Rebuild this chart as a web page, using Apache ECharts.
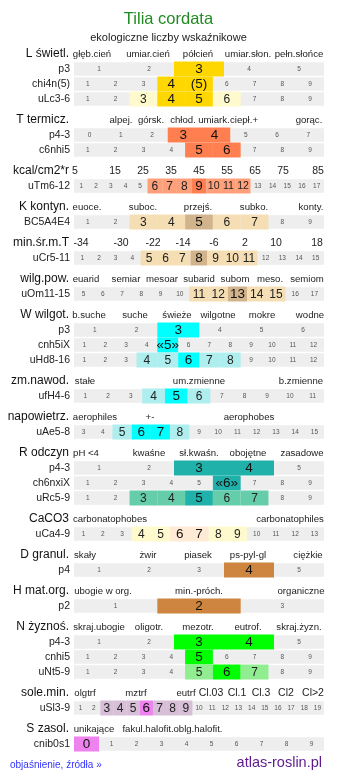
<!DOCTYPE html>
<html><head><meta charset="utf-8">
<script src="https://cdn.jsdelivr.net/npm/echarts@6/dist/echarts.min.js"></script>
<style>html,body{margin:0;padding:0;background:#fff}#c{width:337px;height:781px}</style>
</head><body><div id="c"></div>
<script>
// ---------- DATA ----------
const sectionNames = ['L świetl.','T termicz.','kcal/cm2*r','K kontyn.','min.śr.m.T','wilg.pow.','W wilgot.','zm.nawod.','napowietrz.','R odczyn','CaCO3','D granul.','H mat.org.','N żyznoś.','sole.min.','S zasol.'];
const sectionTicks = [
 ['głęb.cień','umiar.cień','półcień','umiar.słon.','pełn.słońce'],
 ['alpej.','górsk.','chłod.','umiark.','ciepł.+','gorąc.'],
 ['5','15','25','35','45','55','65','75','85'],
 ['euoce.','suboc.','przejś.','subko.','konty.'],
 ['-34','-30','-22','-14','-6','2','10','18'],
 ['euarid','semiar','mesoar','subarid','subom','meso.','semiom'],
 ['b.suche','suche','świeże','wilgotne','mokre','wodne'],
 ['stałe','um.zmienne','b.zmienne'],
 ['aerophiles','+-','aerophobes'],
 ['pH <4','kwaśne','sł.kwaśn.','obojętne','zasadowe'],
 ['carbonatophobes','carbonatophiles'],
 ['skały','żwir','piasek','ps-pyl-gl','ciężkie'],
 ['ubogie w org.','min.-próch.','organiczne'],
 ['skraj.ubogie','oligotr.','mezotr.','eutrof.','skraj.żyzn.'],
 ['olgtrf','mztrf','eutrf','Cl.03','Cl.1','Cl.3','Cl2','Cl>2'],
 ['unikające','fakul.halofit.','oblg.halofit.']
];
const rowNames = ['p3','chi4n(5)','uLc3-6','p4-3','c6nhi5','uTm6-12','BC5A4E4','uCr5-11','uOm11-15','p3','cnh5iX','uHd8-16','ufH4-6','uAe5-8','p4-3','ch6nxiX','uRc5-9','uCa4-9','p4','p2','p4-3','cnhi5','uNt5-9','uSl3-9','cnib0s1'];
const rowSection = [0,0,0,1,1,2,3,4,5,6,6,6,7,8,9,9,9,10,11,12,13,13,13,14,15];
const rowFirstValue = [1,1,1,0,1,1,1,1,5,1,1,1,1,3,1,1,1,1,1,1,1,1,1,1,0];
const rowLastValue  = [5,9,9,7,9,17,9,15,17,6,12,12,11,15,5,9,9,13,5,3,5,9,9,19,9];
const rowStrong = [[3],[4,5],[4,5],[3,4],[5,6],[9],[5],[8],[13],[3],[5],[6],[5],[6,7],[3,4],[6],[5],[6,7],[4],[2],[3,4],[5],[6],[6],[0]];
const rowLight  = [[],[],[3,6],[],[],[6,7,8,10,11,12],[3,4,6,7],[5,6,7,9,10,11],[11,12,14,15],[],[],[4,5,7,8],[4,6],[5,8],[],[],[3,4,6,7],[4,5,8,9],[],[],[],[],[5,7],[3,4,5,7,8,9],[]];
const cellLabelOverrides = [[1,5,'(5)'],[10,5,'«5»'],[15,6,'«6»']];

// ---------- LAYOUT / STYLE ----------
const tickCenters = [
 [92,148,198,248,299],
 [121,151,183,214,244,309],
 [75,115,143,171,199,227,255,283,318],
 [87,143,198,254,311],
 [81,121,153,183,214,245,276,317],
 [86,126,162,199,235,270,307],
 [89,135,177,218,262,310],
 [85,199,301],
 [95,150,249],
 [86,149,199,248,302],
 [110,290],
 [85,148,198,248,308],
 [103,199,301],
 [99,149,198,248,299],
 [85,136,186,211,237,261,286,313],
 [94,148,198]
];
const numericTickSections = [2,4];
const bigTickLabels = ['Cl.03','Cl.1','Cl.3','Cl2','Cl>2'];
const secColors = [
 ['#FFD700','#FFFACD'],['#FF7F50','#FFA07A'],['#FF7F50','#FFA07A'],
 ['#D2B48C','#F5DEB3'],['#D2B48C','#F5DEB3'],['#D2B48C','#F5DEB3'],
 ['#00FFFF','#AFEEEE'],['#00FFFF','#AFEEEE'],['#00FFFF','#AFEEEE'],
 ['#20B2AA','#66CDAA'],['#FFEBD5','#FFFACD'],['#CD853F','#CD853F'],['#CD853F','#CD853F'],
 ['#00FF00','#90EE90'],['#EE82EE','#D8BFD8'],['#EE82EE','#EE82EE']
];
const X0 = 74, X1 = 324, PITCH = 15, SEC_GAP = 21, FIRST_Y = 54;
const FONT = '"Liberation Sans", Arial, sans-serif';

// compute vertical layout
const secY = [], rowY = [];
let y = FIRST_Y;
sectionNames.forEach((s, si) => {
  if (si > 0) y += SEC_GAP;
  secY.push(y);
  rowNames.forEach((r, ri) => { if (rowSection[ri] === si) { y += PITCH; rowY[ri] = y; } });
});

// build element list
const els = [];
rowNames.forEach((name, ri) => {
  const yy = rowY[ri];
  els.push({k:'rect', x0:X0, x1:X1, y0:yy-6.8, y1:yy+6.8, fill:'#EEEEEE'});
});
rowNames.forEach((name, ri) => {
  const yy = rowY[ri], si = rowSection[ri];
  const n = rowLastValue[ri] - rowFirstValue[ri] + 1;
  const w = (X1 - X0) / n;
  for (let v = rowFirstValue[ri]; v <= rowLastValue[ri]; v++) {
    const i = v - rowFirstValue[ri];
    const strong = rowStrong[ri].includes(v), light = rowLight[ri].includes(v);
    if (strong || light) {
      els.push({k:'rect', x0:X0+i*w, x1:X0+(i+1)*w, y0:yy-7.5, y1:yy+7.5, fill: strong ? secColors[si][0] : secColors[si][1]});
    }
  }
});
rowNames.forEach((name, ri) => {
  const yy = rowY[ri];
  const n = rowLastValue[ri] - rowFirstValue[ri] + 1;
  const w = (X1 - X0) / n;
  for (let v = rowFirstValue[ri]; v <= rowLastValue[ri]; v++) {
    const i = v - rowFirstValue[ri];
    const strong = rowStrong[ri].includes(v), light = rowLight[ri].includes(v);
    let txt = String(v);
    cellLabelOverrides.forEach(o => { if (o[0] === ri && o[1] === v) txt = o[2]; });
    let size = strong ? 13.5 : (light ? 12 : 6.5);
    if ((strong || light) && txt.length >= 2 && !/[«(]/.test(txt)) size = Math.min(size, w * 0.72);
    els.push({k:'text', x:X0+(i+0.5)*w, y:yy+0.5, text:txt, align:'center',
      size: size, color: strong ? '#111' : (light ? '#222' : '#555')});
  }
  els.push({k:'text', x:70, y:yy, text:name, align:'right', size:10.5, color:'#222'});
});
sectionNames.forEach((s, si) => {
  els.push({k:'text', x:69, y:secY[si], text:s, align:'right', size:12, color:'#111'});
  sectionTicks[si].forEach((t, ti) => {
    const big = numericTickSections.includes(si) || bigTickLabels.includes(t);
    els.push({k:'text', x:tickCenters[si][ti], y:secY[si], text:t, align:'center', size: big ? 10.5 : 9.6, color:'#222'});
  });
});

const chart = echarts.init(document.getElementById('c'), null, {renderer:'canvas'});
chart.setOption({
  animation:false,
  backgroundColor:'#fff',
  title:[
    {text:'Tilia cordata', left:'center', top:11, padding:0, textStyle:{fontFamily:FONT, fontSize:16.5, fontWeight:'normal', color:'#228B22'}},
    {text:'ekologiczne liczby wskaźnikowe', left:'center', top:32, padding:0, textStyle:{fontFamily:FONT, fontSize:11, fontWeight:'normal', color:'#222'}},
    {text:'objaśnienie, źródła »', left:10, top:760, padding:0, textStyle:{fontFamily:FONT, fontSize:10, fontWeight:'normal', color:'#3333FF'}},
    {text:'atlas-roslin.pl', right:15, top:755, padding:0, textStyle:{fontFamily:FONT, fontSize:14.5, fontWeight:'normal', color:'#5E1A8C'}}
  ],
  grid:{left:0, right:0, top:0, bottom:0},
  xAxis:{type:'value', min:0, max:337, show:false},
  yAxis:{type:'value', min:0, max:781, inverse:true, show:false},
  series:[{
    type:'custom', coordinateSystem:'cartesian2d', silent:true, clip:false,
    data: els.map((e, i) => [e.k === 'rect' ? e.x0 : e.x, e.k === 'rect' ? e.y0 : e.y]),
    renderItem: (params, api) => {
      const e = els[params.dataIndex];
      if (e.k === 'rect') {
        const p0 = api.coord([e.x0, e.y0]), p1 = api.coord([e.x1, e.y1]);
        return {type:'rect', shape:{x:p0[0], y:p0[1], width:p1[0]-p0[0], height:p1[1]-p0[1]}, style:{fill:e.fill}};
      }
      const p = api.coord([e.x, e.y]);
      return {type:'text', style:{text:e.text, x:p[0], y:p[1], align:e.align, verticalAlign:'middle',
        fontSize:e.size, fontFamily:FONT, fill:e.color}};
    }
  }]
});
</script></body></html>
